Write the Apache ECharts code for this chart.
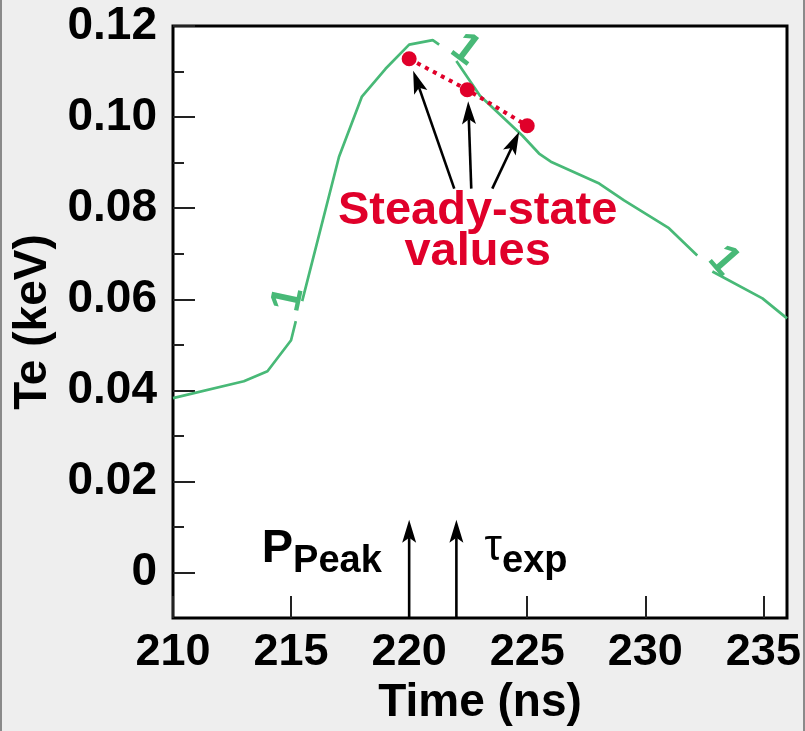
<!DOCTYPE html>
<html>
<head>
<meta charset="utf-8">
<script src="https://cdn.jsdelivr.net/npm/echarts@6/dist/echarts.min.js"></script>
<style>
html, body { margin: 0; padding: 0; background: #eeeeee; }
#main { width: 805px; height: 731px; }
.edge { position: absolute; top: 0; width: 2px; height: 731px; background: #8a8a8a; }
</style>
</head>
<body>
<div id="main"></div>
<div class="edge" style="left:0"></div>
<div class="edge" style="left:803px"></div>
<script>
// Te curve (gaps where the "1" labels sit)
var teTime  = [210, 213.0, 214.0, 215.0, 215.2, null,
               215.47, 217.03, 218.0, 219.0, 220.0, 221.0, 221.27, null,
               222.0, 223.0, 224.8, 225.5, 226.0, 228.05, 229.1, 231.0, 232.2, null,
               232.84, 234.96, 236.0];
var teValue = [0.0383, 0.0420, 0.0442, 0.0510, 0.0552, null,
               0.0596, 0.0913, 0.1045, 0.1106, 0.1159, 0.1169, 0.1159, null,
               0.1123, 0.1047, 0.0959, 0.0920, 0.0902, 0.0854, 0.0817, 0.0756, 0.0696, null,
               0.0661, 0.0602, 0.0558];

// steady-state values
var steadyTime = [220.0, 222.46, 225.0];
var steadyTe   = [0.1128, 0.1060, 0.0981];

// contour labels "1" on the curve
var curveLabelTime = [214.9, 222.37, 233.31];
var curveLabelTe   = [0.0600, 0.1148, 0.0684];
var curveLabelRot  = [78, -37, -49];

// arrows [from, to]
var arrowFrom = [[221.91, 0.0843], [222.63, 0.0843], [223.52, 0.0843], [220, -0.01], [222, -0.01]];
var arrowTo   = [[220.17, 0.1102], [222.5, 0.1035], [224.66, 0.0968], [220, 0.0116], [222, 0.0116]];

// ticks
var xTicks = [210, 215, 220, 225, 230, 235];
var yTicks = [0, 0.02, 0.04, 0.06, 0.08, 0.10, 0.12];
var yTickLabels = ['0', '0.02', '0.04', '0.06', '0.08', '0.10', '0.12'];
var yMinorTicks = [0.01, 0.03, 0.05, 0.07, 0.09, 0.11];

var FONT = 'Liberation Sans, Arial, Helvetica, sans-serif';
var GREEN = '#48b977';
var RED = '#e0002a';

var curveData = [];
for (var i = 0; i < teTime.length; i++) {
	curveData.push(teTime[i] == null ? '-' : [teTime[i], teValue[i]]);
}
var steadyData = [];
for (var i = 0; i < steadyTime.length; i++) {
	steadyData.push([steadyTime[i], steadyTe[i]]);
}
var curveLabelData = [];
for (var i = 0; i < curveLabelTime.length; i++) {
	curveLabelData.push({ value: [curveLabelTime[i], curveLabelTe[i]], label: { rotate: curveLabelRot[i] } });
}
var arrowData = [];
for (var i = 0; i < arrowFrom.length; i++) {
	arrowData.push([arrowFrom[i][0], arrowFrom[i][1], arrowTo[i][0], arrowTo[i][1]]);
}

function renderArrow(params, api) {
	var p1 = api.coord([api.value(0), api.value(1)]);
	var p2 = api.coord([api.value(2), api.value(3)]);
	var dx = p2[0] - p1[0], dy = p2[1] - p1[1];
	var len = Math.sqrt(dx * dx + dy * dy);
	var ux = dx / len, uy = dy / len;
	var nx = -uy, ny = ux;
	var headLen = 23, headW = 7, notch = 5;
	var bx = p2[0] - ux * headLen, by = p2[1] - uy * headLen;
	var inner = [p2[0] - ux * (headLen - notch), p2[1] - uy * (headLen - notch)];
	return {
		type: 'group',
		children: [
			{ type: 'line', shape: { x1: p1[0], y1: p1[1], x2: inner[0], y2: inner[1] },
			  style: { stroke: '#000', lineWidth: 2.6 } },
			{ type: 'polygon', shape: { points: [p2, [bx + nx * headW, by + ny * headW], inner, [bx - nx * headW, by - ny * headW]] },
			  style: { fill: '#000' } }
		]
	};
}

var chart = echarts.init(document.getElementById('main'));
var option = {
	backgroundColor: '#eeeeee',
	animation: false,
	grid: {
		left: 173, right: 18, top: 26, bottom: 110,
		show: true, backgroundColor: '#fff', borderColor: '#000', borderWidth: 3
	},
	xAxis: {
		type: 'value', min: 210, max: 236, interval: 5,
		name: 'Time (ns)', nameLocation: 'middle', nameGap: 60,
		nameTextStyle: { fontFamily: FONT, fontWeight: 'bold', fontSize: 46, color: '#000' },
		axisLine: { show: false, onZero: false },
		splitLine: { show: false },
		axisTick: { inside: true, length: 22, customValues: xTicks, lineStyle: { color: '#222', width: 2 } },
		axisLabel: { customValues: xTicks, margin: 12, fontFamily: FONT, fontWeight: 'bold', fontSize: 45, color: '#000' }
	},
	yAxis: [{
		type: 'value', min: -0.01, max: 0.12,
		name: 'Te (keV)', nameLocation: 'middle', nameGap: 104,
		nameTextStyle: { fontFamily: FONT, fontWeight: 'bold', fontSize: 46, color: '#000' },
		axisLine: { show: false, onZero: false },
		splitLine: { show: false },
		axisTick: { inside: true, length: 22, customValues: yTicks, lineStyle: { color: '#222', width: 2 } },
		axisLabel: {
			customValues: yTicks, margin: 16, fontFamily: FONT, fontWeight: 'bold', fontSize: 46, color: '#000',
			formatter: function (v) {
				for (var k = 0; k < yTicks.length; k++) {
					if (Math.abs(yTicks[k] - v) < 1e-6) return yTickLabels[k];
				}
				return '';
			}
		}
	}, {
		type: 'value', min: -0.01, max: 0.12, position: 'left',
		axisLine: { show: false, onZero: false },
		splitLine: { show: false },
		axisLabel: { show: false },
		axisTick: { inside: true, length: 11, customValues: yMinorTicks, lineStyle: { color: '#222', width: 2 } }
	}],
	series: [
		{
			name: 'Te',
			type: 'line',
			data: curveData,
			showSymbol: false,
			connectNulls: false,
			lineStyle: { color: GREEN, width: 2.7 },
			z: 3
		},
		{
			name: 'curve labels',
			type: 'scatter',
			data: curveLabelData,
			symbolSize: 1,
			itemStyle: { color: 'rgba(0,0,0,0)', opacity: 1 },
			label: {
				show: true, position: 'inside', formatter: '1',
				fontFamily: FONT, fontWeight: 'bold', fontSize: 43, color: GREEN
			},
			silent: true,
			z: 3
		},
		{
			name: 'steady',
			type: 'line',
			data: steadyData,
			symbol: 'circle',
			symbolSize: 15,
			itemStyle: { color: RED },
			lineStyle: { color: RED, width: 4, type: [4, 5] },
			z: 5
		},
		{
			name: 'arrows',
			type: 'custom',
			renderItem: renderArrow,
			data: arrowData,
			encode: { x: [0, 2], y: [1, 3] },
			clip: false,
			z: 4
		},
		{
			name: 'notes',
			type: 'scatter',
			symbolSize: 1,
			itemStyle: { color: 'rgba(0,0,0,0)', opacity: 1 },
			silent: true,
			z: 6,
			data: [
				{
					value: [222.9, 0.0748],
					label: {
						show: true, position: 'inside', formatter: 'Steady-state\nvalues',
						fontFamily: FONT, fontWeight: 'bold', fontSize: 47, lineHeight: 41, color: RED, align: 'center'
					}
				},
				{
					value: [216.3, 0.0052],
					label: {
						show: true, position: 'inside', formatter: '{big|P}{sub|Peak}',
						rich: {
							big: { fontFamily: FONT, fontWeight: 'bold', fontSize: 47, lineHeight: 46, verticalAlign: 'top', color: '#000' },
							sub: { fontFamily: FONT, fontWeight: 'bold', fontSize: 38, lineHeight: 38, verticalAlign: 'top', padding: [17, 0, 0, 0], color: '#000' }
						}
					}
				},
				{
					value: [224.95, 0.0052],
					label: {
						show: true, position: 'inside', formatter: '{tau|τ}{sub|exp}',
						rich: {
							tau: { fontFamily: FONT, fontSize: 44, lineHeight: 46, verticalAlign: 'top', color: '#000' },
							sub: { fontFamily: FONT, fontWeight: 'bold', fontSize: 38, lineHeight: 38, verticalAlign: 'top', padding: [17, 0, 0, 0], color: '#000' }
						}
					}
				}
			]
		}
	]
};
chart.setOption(option);
</script>
</body>
</html>
